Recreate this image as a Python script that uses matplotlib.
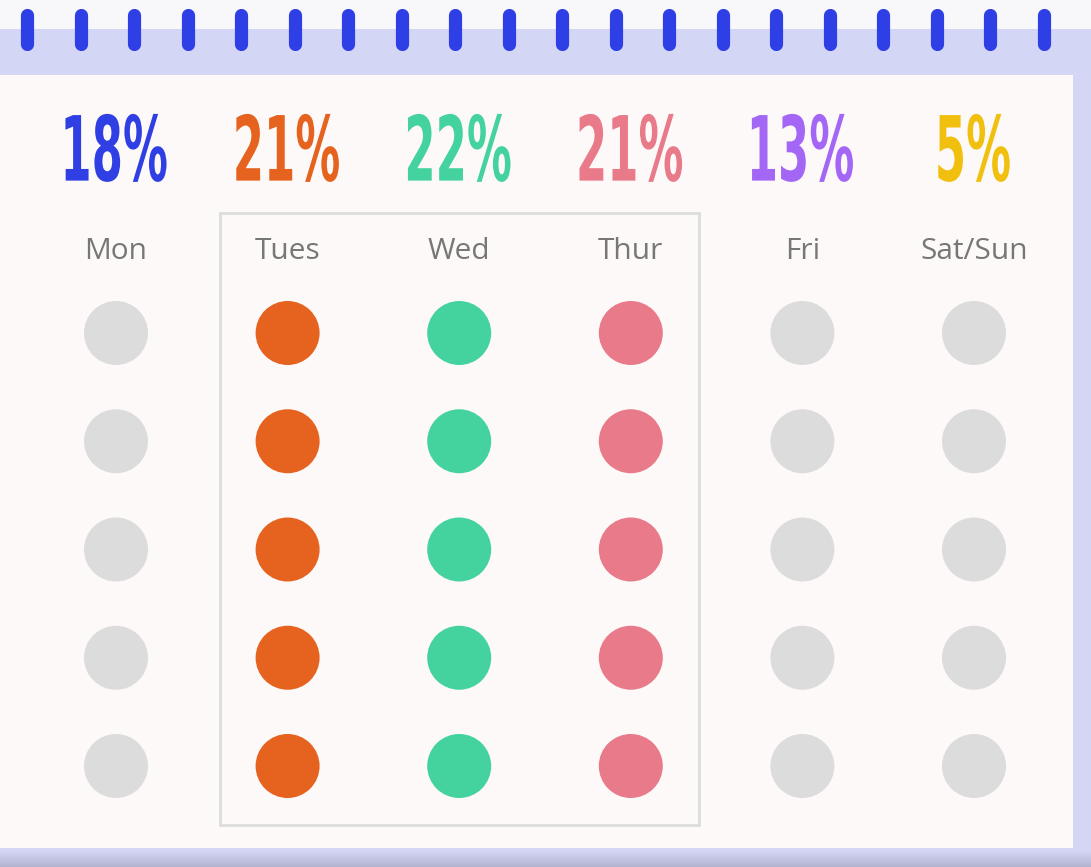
import numpy as np
import matplotlib
matplotlib.use("Agg")
import matplotlib.pyplot as plt
import matplotlib.transforms as mtransforms
from matplotlib.patches import Rectangle, PathPatch
from matplotlib.textpath import TextPath
from matplotlib.font_manager import FontProperties

# data
days = ["Mon", "Tues", "Wed", "Thur", "Fri", "Sat/Sun"]
shares = [18, 21, 22, 21, 13, 5]
day_colors = ["#2f3fe3", "#e5621f", "#44d39f", "#e87a8a", "#a366f5", "#f1bf0d"]
highlighted = [False, True, True, True, False, False]
n_rows = 5

W, H = 1091, 867
DPI = 100
fig = plt.figure(figsize=(W / DPI, H / DPI), dpi=DPI)
fig.patch.set_facecolor("#f8f8fa")

# background calendar (pixel coords)
bg = fig.add_axes([0, 0, 1, 1], zorder=0)
bg.axis("off")
lav = "#d4d6f6"
bg.add_patch(Rectangle((0, 29), W, H - 29, facecolor=lav, edgecolor="none"))
grad = np.linspace(0, 1, 50).reshape(-1, 1)
bg.imshow(grad, extent=(0, W, H, 850),
          cmap=matplotlib.colors.LinearSegmentedColormap.from_list("g", [lav, "#b3b5cf"]),
          aspect="auto", zorder=1)
bg.add_patch(Rectangle((0, 75), 1073, 773, facecolor="#fdf9f8", edgecolor="none", zorder=2))
for rx in 27 + 53.5 * np.arange(20):
    bg.plot([rx, rx], [15, 44], color="#2f3fe6", lw=9.5, solid_capstyle="round", zorder=3)
bg.set_xlim(0, W)
bg.set_ylim(H, 0)

# data axes: column index / row index
ax = fig.add_axes([0, 0, 1, 1], zorder=1)
ax.patch.set_alpha(0)
ax.axis("off")
col_px, row_px = 171.6, 108.25
ax.set_xlim(-116 / col_px, (W - 116) / col_px)
ax.set_ylim((H - 333) / row_px, -333 / row_px)

cols = np.arange(len(days))
for i in cols:
    c = day_colors[i] if highlighted[i] else "#dcdcdc"
    ax.scatter(np.full(n_rows, i), np.arange(n_rows), s=(64 * 72 / DPI) ** 2,
               color=c, edgecolors="none", zorder=3)
    ax.text(i, -0.75, days[i], ha="center", va="center", fontsize=21.5,
            family="Open Sans", color="#777777")

# box around the mid-week days
hl = [i for i in cols if highlighted[i]]
ax.add_patch(Rectangle((min(hl) - 0.394, -1.11), max(hl) - min(hl) + 0.79, 5.655,
                       facecolor="none", edgecolor="#dcdedb", lw=2, zorder=2))

# condensed percentages
fp = FontProperties(family="DejaVu Sans", weight="bold")
for i in cols:
    tp = TextPath((0, 0), f"{shares[i]}%", size=100, prop=fp)
    ext = tp.get_extents()
    k = 68 / ext.height
    px, py = ax.transData.transform((i, -1.71))
    tr = (mtransforms.Affine2D()
          .translate(-(ext.x0 + ext.x1) / 2, -(ext.y0 + ext.y1) / 2)
          .scale(k * 0.5, k)
          .translate(px, py))
    ax.add_patch(PathPatch(tp, facecolor=day_colors[i], edgecolor="none", transform=tr, zorder=4))

fig.savefig("out.png", dpi=DPI)
